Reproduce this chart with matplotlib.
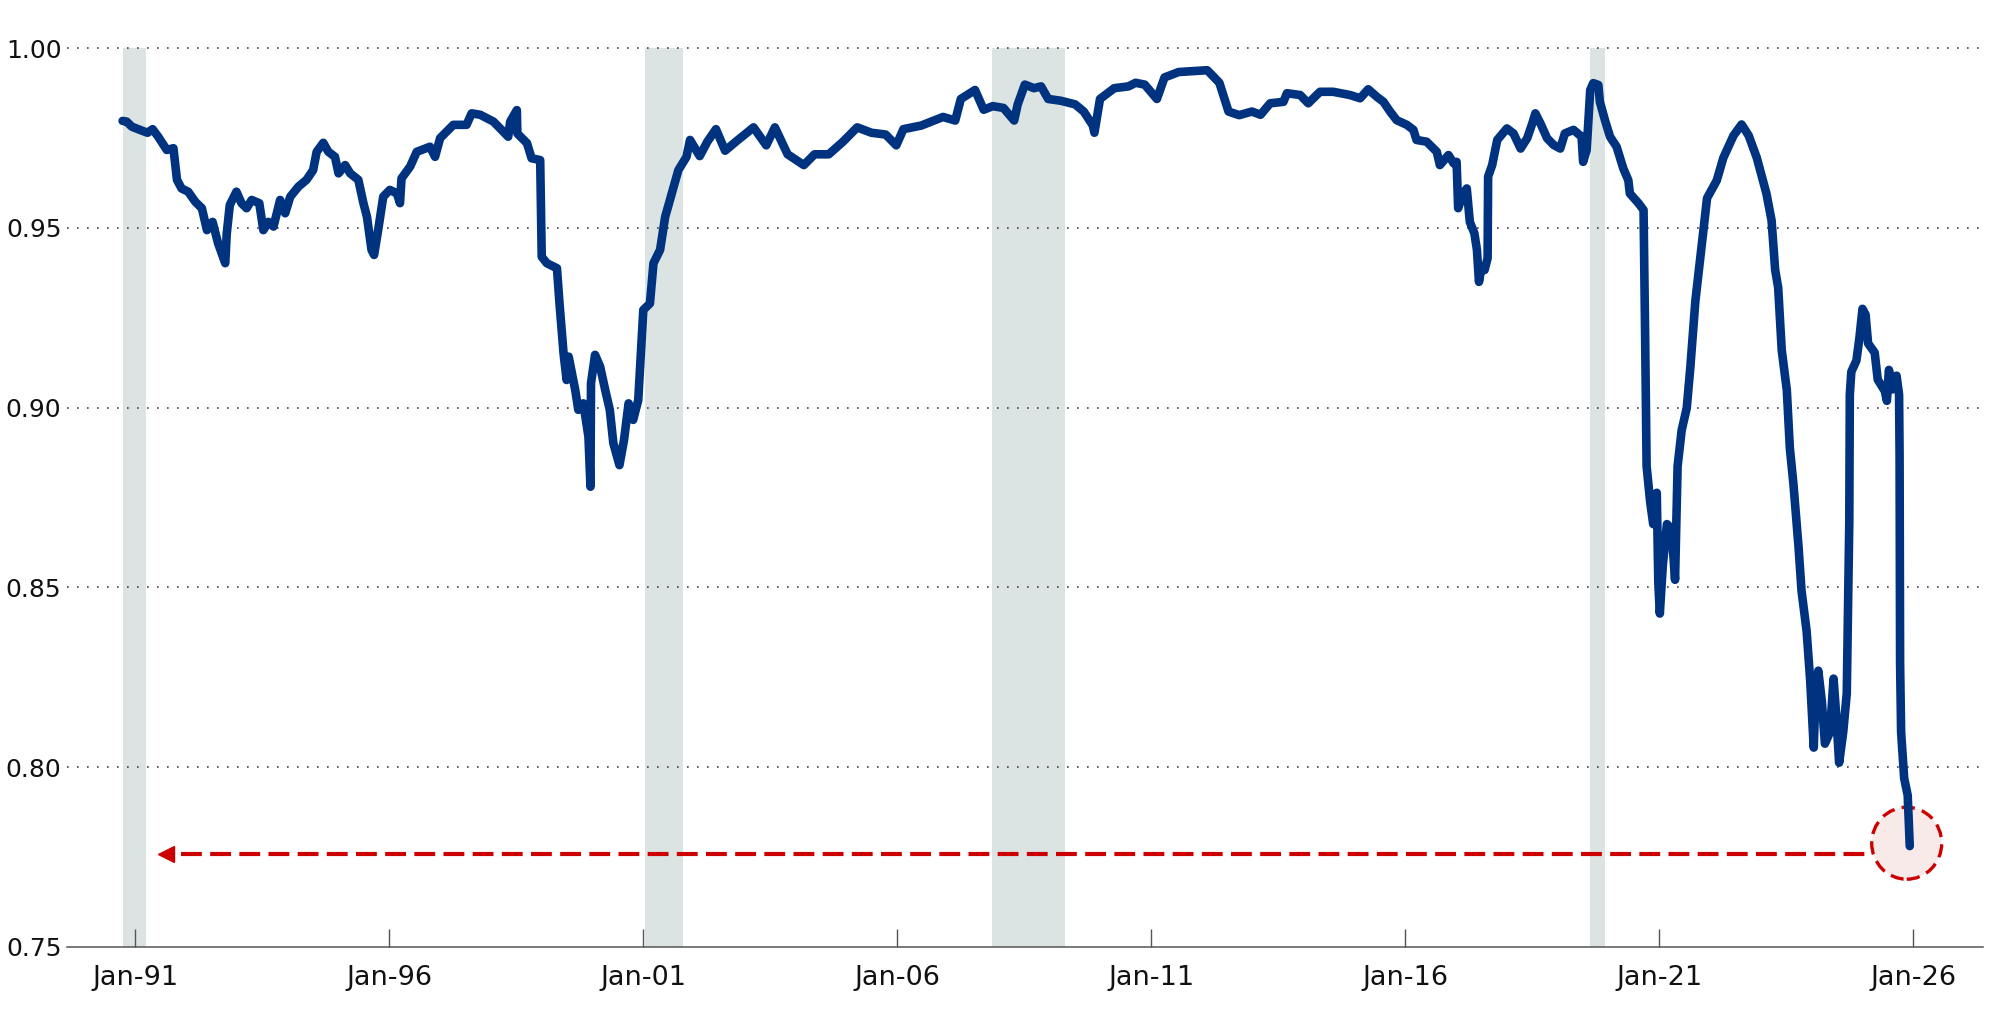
import numpy as np
import matplotlib.pyplot as plt
from matplotlib.patches import Ellipse

# serie (decimalni datumi i vrednosti ocitane sa slike)
years = [
    1990.75, 1990.83, 1990.93, 1991.09, 1991.24, 1991.34, 1991.45, 1991.62, 1991.75, 1991.82,
    1991.91, 1992.04, 1992.18, 1992.31, 1992.41, 1992.52, 1992.63, 1992.77, 1992.80, 1992.86,
    1992.99, 1993.09, 1993.19, 1993.29, 1993.44, 1993.52, 1993.62, 1993.72, 1993.85, 1993.95,
    1994.05, 1994.21, 1994.37, 1994.50, 1994.57, 1994.70, 1994.80, 1994.93, 1995.00, 1995.13,
    1995.23, 1995.39, 1995.49, 1995.56, 1995.65, 1995.70, 1995.78, 1995.88, 1996.01, 1996.15,
    1996.21, 1996.24, 1996.41, 1996.54, 1996.80, 1996.90, 1997.00, 1997.26, 1997.39, 1997.52,
    1997.62, 1997.79, 1998.05, 1998.21, 1998.34, 1998.38, 1998.51, 1998.52, 1998.71, 1998.80,
    1998.97, 1999.00, 1999.10, 1999.30, 1999.35, 1999.43, 1999.49, 1999.53, 1999.66, 1999.72,
    1999.82, 1999.92, 1999.96, 1999.97, 2000.05, 2000.15, 2000.25, 2000.34, 2000.41, 2000.53,
    2000.62, 2000.71, 2000.80, 2000.90, 2000.97, 2001.00, 2001.13, 2001.20, 2001.33, 2001.43,
    2001.56, 2001.69, 2001.85, 2001.92, 2002.11, 2002.26, 2002.43, 2002.61, 2002.82, 2003.17,
    2003.42, 2003.59, 2003.84, 2004.16, 2004.37, 2004.65, 2004.93, 2005.21, 2005.49, 2005.77,
    2005.98, 2006.12, 2006.47, 2006.90, 2007.14, 2007.25, 2007.53, 2007.70, 2007.88, 2008.09,
    2008.30, 2008.37, 2008.51, 2008.69, 2008.83, 2008.97, 2009.22, 2009.50, 2009.67, 2009.85,
    2009.88, 2009.99, 2010.27, 2010.55, 2010.69, 2010.87, 2011.11, 2011.26, 2011.54, 2012.10,
    2012.17, 2012.34, 2012.52, 2012.73, 2012.98, 2013.15, 2013.34, 2013.60, 2013.67, 2013.93,
    2014.09, 2014.32, 2014.58, 2014.91, 2015.11, 2015.27, 2015.44, 2015.57, 2015.70, 2015.83,
    2016.03, 2016.16, 2016.22, 2016.42, 2016.62, 2016.68, 2016.85, 2016.95, 2017.01, 2017.04,
    2017.14, 2017.21, 2017.27, 2017.36, 2017.41, 2017.45, 2017.50, 2017.56, 2017.62, 2017.63,
    2017.71, 2017.81, 2018.00, 2018.13, 2018.27, 2018.40, 2018.50, 2018.56, 2018.66, 2018.79,
    2018.92, 2019.05, 2019.14, 2019.31, 2019.47, 2019.50, 2019.57, 2019.64, 2019.70, 2019.80,
    2019.83, 2019.93, 2020.03, 2020.16, 2020.29, 2020.39, 2020.42, 2020.59, 2020.69, 2020.72,
    2020.75, 2020.82, 2020.88, 2020.95, 2020.98, 2021.01, 2021.07, 2021.15, 2021.24, 2021.31,
    2021.36, 2021.44, 2021.54, 2021.61, 2021.71, 2021.84, 2021.94, 2022.13, 2022.26, 2022.46,
    2022.62, 2022.76, 2022.92, 2023.11, 2023.21, 2023.28, 2023.34, 2023.41, 2023.51, 2023.57,
    2023.64, 2023.74, 2023.80, 2023.90, 2023.97, 2024.04, 2024.07, 2024.13, 2024.20, 2024.26,
    2024.36, 2024.43, 2024.49, 2024.54, 2024.62, 2024.69, 2024.74, 2024.75, 2024.78, 2024.88,
    2024.94, 2025.00, 2025.06, 2025.11, 2025.24, 2025.30, 2025.44, 2025.48, 2025.52, 2025.59,
    2025.67, 2025.72, 2025.73, 2025.74, 2025.76, 2025.82, 2025.89, 2025.93,
]
values = [
    0.9798, 0.9796, 0.9782, 0.9773, 0.9765, 0.9775, 0.9754, 0.9717, 0.9722, 0.9634,
    0.9610, 0.9601, 0.9573, 0.9555, 0.9494, 0.9517, 0.9457, 0.9402, 0.9485, 0.9564,
    0.9601, 0.9569, 0.9555, 0.9578, 0.9569, 0.9494, 0.9517, 0.9504, 0.9578, 0.9541,
    0.9587, 0.9615, 0.9634, 0.9661, 0.9712, 0.9737, 0.9712, 0.9698, 0.9652, 0.9675,
    0.9652, 0.9634, 0.9569, 0.9531, 0.9439, 0.9425, 0.9494, 0.9587, 0.9606, 0.9596,
    0.9569, 0.9638, 0.9671, 0.9712, 0.9726, 0.9698, 0.9750, 0.9787, 0.9787, 0.9787,
    0.9819, 0.9815, 0.9796, 0.9773, 0.9754, 0.9796, 0.9828, 0.9763, 0.9736, 0.9694,
    0.9689, 0.9420, 0.9402, 0.9388, 0.9290, 0.9151, 0.9077, 0.9142, 0.9049, 0.8994,
    0.9012, 0.8919, 0.8780, 0.9068, 0.9147, 0.9114, 0.9049, 0.8994, 0.8901, 0.8840,
    0.8910, 0.9012, 0.8966, 0.9021, 0.9197, 0.9272, 0.9290, 0.9402, 0.9439, 0.9531,
    0.9596, 0.9661, 0.9698, 0.9745, 0.9700, 0.9740, 0.9775, 0.9715, 0.9740, 0.9780,
    0.9730, 0.9780, 0.9705, 0.9675, 0.9705, 0.9705, 0.9740, 0.9780, 0.9765, 0.9760,
    0.9730, 0.9775, 0.9785, 0.9809, 0.9799, 0.9859, 0.9884, 0.9829, 0.9839, 0.9834,
    0.9799, 0.9844, 0.9899, 0.9889, 0.9894, 0.9859, 0.9854, 0.9844, 0.9824, 0.9785,
    0.9765, 0.9859, 0.9889, 0.9894, 0.9904, 0.9899, 0.9859, 0.9919, 0.9934, 0.9939,
    0.9929, 0.9904, 0.9824, 0.9814, 0.9824, 0.9815, 0.9847, 0.9851, 0.9875, 0.9870,
    0.9847, 0.9879, 0.9879, 0.9870, 0.9861, 0.9886, 0.9865, 0.9851, 0.9824, 0.9800,
    0.9787, 0.9773, 0.9745, 0.9740, 0.9712, 0.9675, 0.9703, 0.9680, 0.9684, 0.9555,
    0.9596, 0.9610, 0.9517, 0.9485, 0.9439, 0.9350, 0.9392, 0.9383, 0.9416, 0.9643,
    0.9675, 0.9745, 0.9777, 0.9763, 0.9721, 0.9750, 0.9791, 0.9819, 0.9791, 0.9750,
    0.9731, 0.9721, 0.9763, 0.9773, 0.9754, 0.9684, 0.9717, 0.9884, 0.9903, 0.9898,
    0.9851, 0.9800, 0.9754, 0.9726, 0.9666, 0.9633, 0.9596, 0.9569, 0.9550, 0.9210,
    0.8837, 0.8738, 0.8676, 0.8763, 0.8515, 0.8427, 0.8564, 0.8676, 0.8663, 0.8521,
    0.8837, 0.8937, 0.8999, 0.9111, 0.9297, 0.9458, 0.9583, 0.9632, 0.9695, 0.9757,
    0.9788, 0.9757, 0.9695, 0.9595, 0.9521, 0.9384, 0.9334, 0.9160, 0.9049, 0.8887,
    0.8788, 0.8614, 0.8490, 0.8378, 0.8241, 0.8054, 0.8182, 0.8268, 0.8182, 0.8065,
    0.8097, 0.8246, 0.8129, 0.8012, 0.8097, 0.8204, 0.8684, 0.9036, 0.9100, 0.9131,
    0.9195, 0.9275, 0.9259, 0.9179, 0.9153, 0.9078, 0.9046, 0.9019, 0.9105, 0.9051,
    0.9089, 0.9036, 0.8865, 0.8289, 0.8097, 0.7969, 0.7921, 0.7780,
]

# osencene periode
shade_start = [1990.75, 2001.03, 2007.87, 2019.64]
shade_end = [1991.21, 2001.78, 2009.31, 2019.93]

tick_years = [1991, 1996, 2001, 2006, 2011, 2016, 2021, 2026]
tick_labels = ['Jan-91', 'Jan-96', 'Jan-01', 'Jan-06', 'Jan-11', 'Jan-16', 'Jan-21', 'Jan-26']
y_ticks = [0.75, 0.80, 0.85, 0.90, 0.95, 1.00]
y_labels = ['0.75', '0.80', '0.85', '0.90', '0.95', '1.00']

# anotacija: poslednja vrednost
arrow_level = 0.7758
arrow_from = 2025.19
arrow_to = 1991.60
circle_x = 2025.87
circle_y = 0.7788

navy = '#00337f'
red = '#cc0000'

fig = plt.figure(figsize=(20, 10.35), dpi=100)
ax = fig.add_axes([67 / 2000, 1 - 946.7 / 1035, (1983 - 67) / 2000, (946.7 - 48.3) / 1035])

for s, e in zip(shade_start, shade_end):
    ax.axvspan(s, e, color='#dbe4e2', lw=0, zorder=0)

for lev in y_ticks[1:]:
    ax.axhline(lev, color='#444444', lw=1.2, ls=(0, (1, 5)), zorder=1, clip_on=False)

circ = Ellipse((circle_x, circle_y), width=2 * 35 / 50.8, height=2 * 36 / 3593.6,
               facecolor='#f9eaea', edgecolor=red, lw=2.4, ls=(0, (4, 2.2)), zorder=2)
ax.add_patch(circ)

ax.plot(years, values, color=navy, lw=6.2, solid_joinstyle='round',
        solid_capstyle='round', zorder=3)

ax.plot([arrow_to + 0.3, arrow_from], [arrow_level, arrow_level], color=red, lw=3,
        ls=(0, (5, 2)), zorder=2)
ax.plot([arrow_to], [arrow_level], marker='<', color=red, markersize=11, zorder=3)

ax.set_xlim(1989.655, 2027.372)
ax.set_ylim(0.75, 1.00)

ax.set_xticks(tick_years)
ax.set_xticklabels(tick_labels)
ax.set_yticks(y_ticks)
ax.set_yticklabels(y_labels)

for sp in ['top', 'left', 'right']:
    ax.spines[sp].set_visible(False)
ax.spines['bottom'].set_color('#555555')
ax.spines['bottom'].set_linewidth(1.1)

ax.tick_params(axis='x', direction='in', length=12.7, width=1.0, color='#555555',
               labelsize=19.5, pad=13, labelcolor='#111111')
ax.tick_params(axis='y', length=0, labelsize=18, pad=4, labelcolor='#111111')

plt.savefig('out.png', dpi=100)
